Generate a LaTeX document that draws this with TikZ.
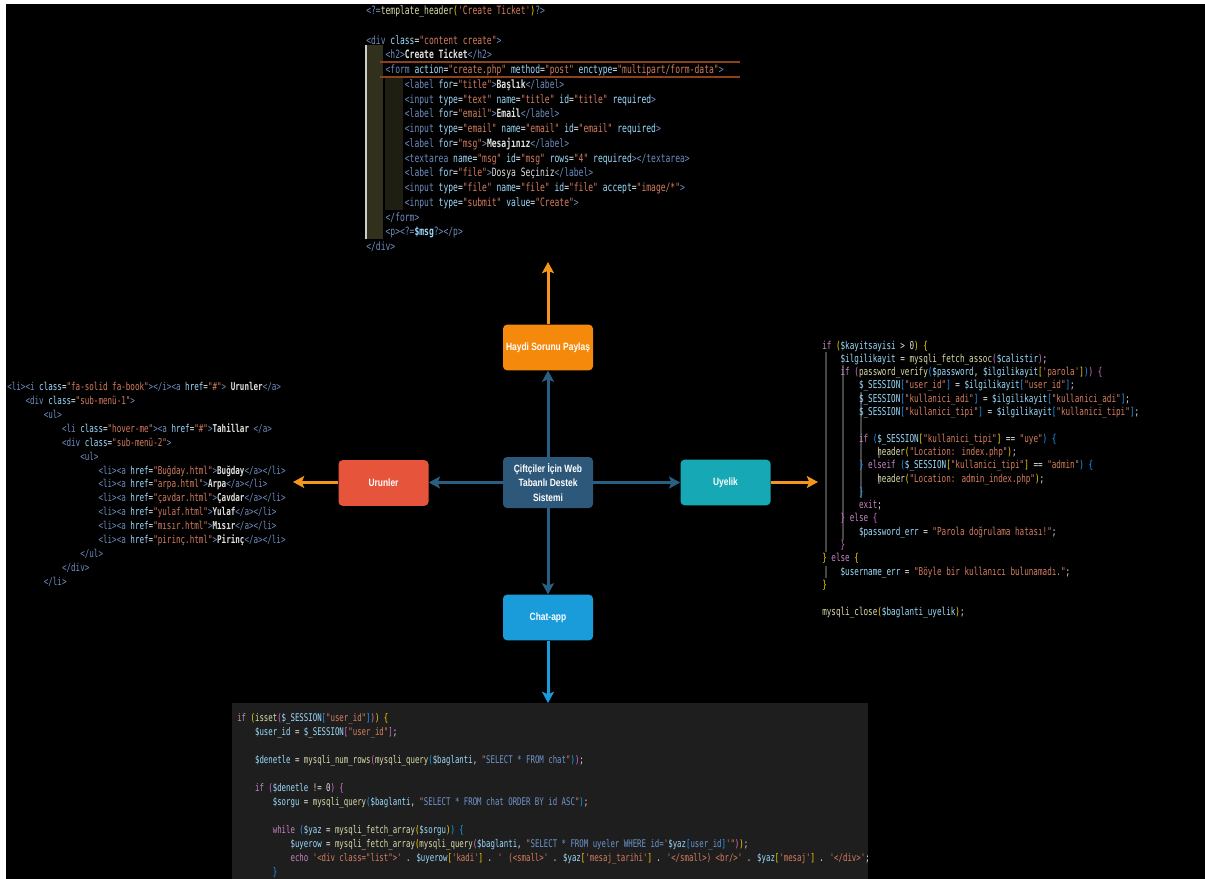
\documentclass[tikz,border=0pt]{standalone}
\usepackage{fontspec}
\setmainfont{Liberation Sans}
\newfontfamily\boxfont[FakeStretch=0.8]{Liberation Sans}
\newfontfamily\codefont[FakeStretch=0.7]{DejaVu Sans Mono}
\usetikzlibrary{arrows.meta}
\definecolor{corebox}{RGB}{45,88,122}
\definecolor{linkblue}{RGB}{40,95,130}
\definecolor{shareorange}{RGB}{245,137,12}
\definecolor{feedorange}{RGB}{243,150,30}
\definecolor{productred}{RGB}{231,84,60}
\definecolor{memberteal}{RGB}{22,168,180}
\definecolor{chatblue}{RGB}{26,155,218}
\definecolor{panelgray}{RGB}{30,30,30}
\definecolor{codetag}{RGB}{110,140,190}
\definecolor{codeatt}{RGB}{156,220,254}
\definecolor{codestr}{RGB}{214,125,95}
\definecolor{codekw}{RGB}{197,134,192}
\definecolor{codevar}{RGB}{156,220,254}
\definecolor{codefn}{RGB}{220,220,170}
\definecolor{codesql}{RGB}{110,150,205}
\definecolor{codetext}{RGB}{225,225,225}
\definecolor{bragold}{RGB}{255,215,0}
\definecolor{brapink}{RGB}{218,112,214}
\definecolor{brablue}{RGB}{23,159,255}
\definecolor{guideolive}{RGB}{48,48,28}
\definecolor{guidedark}{RGB}{30,30,18}
\definecolor{guidegray}{RGB}{70,70,70}
\definecolor{rowline}{RGB}{140,65,30}
% code colouring
\newcommand\ctag[1]{\textcolor{codetag}{#1}}
\newcommand\catt[1]{\textcolor{codeatt}{#1}}
\newcommand\cstr[1]{\textcolor{codestr}{#1}}
\newcommand\ckw[1]{\textcolor{codekw}{#1}}
\newcommand\cvar[1]{\textcolor{codevar}{#1}}
\newcommand\cfn[1]{\textcolor{codefn}{#1}}
\newcommand\csql[1]{\textcolor{codesql}{#1}}
\newcommand\cbr[1]{\textcolor{bragold}{#1}}
\newcommand\cbp[1]{\textcolor{brapink}{#1}}
\newcommand\cbb[1]{\textcolor{brablue}{#1}}
\newcommand\tabi{\phantom{0000}}

\begin{document}
\begin{tikzpicture}[x=0.25mm, y=-0.25mm,
  block/.style={rounded corners=1mm, text=white, align=center, inner sep=0pt,
    minimum width=22.5mm, minimum height=11.4mm,
    font=\boxfont\bfseries\fontsize{7.5}{10}\selectfont},
  code/.style={text=codetext, align=left, inner sep=0pt, anchor=north west},
  link/.style={-{Stealth[length=2.8mm, width=3mm, inset=0.6mm]}, line width=0.75mm, linkblue},
  feed/.style={-{Stealth[length=2.8mm, width=3mm, inset=0.6mm]}, line width=0.75mm, feedorange}
]
  \useasboundingbox (0,0) rectangle (1205,879);
  \fill[white] (0,0) rectangle (1205,879);
  \fill[black] (6,4) rectangle (1205,879);

  % top code: ticket form
  \fill[guideolive] (367,45) rectangle (383,239);
  \fill[guidedark] (385,76) rectangle (403,210);
  \draw[white!80!black, line width=0.5mm] (366,45) -- (366,239);
  \draw[rowline, line width=0.3mm] (380,62) -- (740,62) (380,77) -- (740,77);
  \node[code, font=\codefont\fontsize{8.15}{10.49}\selectfont] (ticket) at (366,5.5) {%
\ctag{<?=}\cfn{template\_header}\cbr{(}\cstr{'Create Ticket'}\cbr{)}\ctag{?>}\\
~\\
\ctag{<div} \catt{class}=\cstr{"content create"}\ctag{>}\\
\tabi\ctag{<h2>}\textbf{Create Ticket}\ctag{</h2>}\\
\tabi\ctag{<form} \catt{action}=\cstr{"create.php"} \catt{method}=\cstr{"post"} \catt{enctype}=\cstr{"multipart/form-data"}\ctag{>}\\
\tabi\tabi\ctag{<label} \catt{for}=\cstr{"title"}\ctag{>}\textbf{Başlık}\ctag{</label>}\\
\tabi\tabi\ctag{<input} \catt{type}=\cstr{"text"} \catt{name}=\cstr{"title"} \catt{id}=\cstr{"title"} \catt{required}\ctag{>}\\
\tabi\tabi\ctag{<label} \catt{for}=\cstr{"email"}\ctag{>}\textbf{Email}\ctag{</label>}\\
\tabi\tabi\ctag{<input} \catt{type}=\cstr{"email"} \catt{name}=\cstr{"email"} \catt{id}=\cstr{"email"} \catt{required}\ctag{>}\\
\tabi\tabi\ctag{<label} \catt{for}=\cstr{"msg"}\ctag{>}\textbf{Mesajınız}\ctag{</label>}\\
\tabi\tabi\ctag{<textarea} \catt{name}=\cstr{"msg"} \catt{id}=\cstr{"msg"} \catt{rows}=\cstr{"4"} \catt{required}\ctag{></textarea>}\\
\tabi\tabi\ctag{<label} \catt{for}=\cstr{"file"}\ctag{>}Dosya Seçiniz\ctag{</label>}\\
\tabi\tabi\ctag{<input} \catt{type}=\cstr{"file"} \catt{name}=\cstr{"file"} \catt{id}=\cstr{"file"} \catt{accept}=\cstr{"image/*"}\ctag{>}\\
\tabi\tabi\ctag{<input} \catt{type}=\cstr{"submit"} \catt{value}=\cstr{"Create"}\ctag{>}\\
\tabi\ctag{</form>}\\
\tabi\ctag{<p><?=}\cvar{\textbf{\$msg}}\ctag{?></p>}\\
\ctag{</div>}};

  % left code: product menu
  \node[code, font=\codefont\fontsize{7.7}{9.9}\selectfont] (menu) at (7,382) {%
\ctag{<li><i} \catt{class}=\cstr{"fa-solid fa-book"}\ctag{></i><a} \catt{href}=\cstr{"\#"}\ctag{>} \textbf{Urunler}\ctag{</a>}\\
\tabi\ctag{<div} \catt{class}=\cstr{"sub-menü-1"}\ctag{>}\\
\tabi\tabi\ctag{<ul>}\\
\tabi\tabi\tabi\ctag{<li} \catt{class}=\cstr{"hover-me"}\ctag{><a} \catt{href}=\cstr{"\#"}\ctag{>}\textbf{Tahillar} \ctag{</a>}\\
\tabi\tabi\tabi\ctag{<div} \catt{class}=\cstr{"sub-menü-2"}\ctag{>}\\
\tabi\tabi\tabi\tabi\ctag{<ul>}\\
\tabi\tabi\tabi\tabi\tabi\ctag{<li><a} \catt{href}=\cstr{"Buğday.html"}\ctag{>}\textbf{Buğday}\ctag{</a></li>}\\
\tabi\tabi\tabi\tabi\tabi\ctag{<li><a} \catt{href}=\cstr{"arpa.html"}\ctag{>}\textbf{Arpa}\ctag{</a></li>}\\
\tabi\tabi\tabi\tabi\tabi\ctag{<li><a} \catt{href}=\cstr{"çavdar.html"}\ctag{>}\textbf{Çavdar}\ctag{</a></li>}\\
\tabi\tabi\tabi\tabi\tabi\ctag{<li><a} \catt{href}=\cstr{"yulaf.html"}\ctag{>}\textbf{Yulaf}\ctag{</a></li>}\\
\tabi\tabi\tabi\tabi\tabi\ctag{<li><a} \catt{href}=\cstr{"mısır.html"}\ctag{>}\textbf{Mısır}\ctag{</a></li>}\\
\tabi\tabi\tabi\tabi\tabi\ctag{<li><a} \catt{href}=\cstr{"pirinç.html"}\ctag{>}\textbf{Pirinç}\ctag{</a></li>}\\
\tabi\tabi\tabi\tabi\ctag{</ul>}\\
\tabi\tabi\tabi\ctag{</div>}\\
\tabi\tabi\ctag{</li>}};

  % right code: login
  \draw[guidegray, line width=0.4mm] (826,352) -- (826,552) (843,365) -- (843,540)
    (861,392) -- (861,498) (879,450) -- (879,458) (879,476) -- (879,484) (826,566) -- (826,578);
  \node[code, font=\codefont\fontsize{7.75}{9.46}\selectfont] (login) at (822,340.5) {%
\ckw{if} \cbr{(}\cvar{\$kayitsayisi} > 0\cbr{)} \cbr{\{}\\
\tabi\cvar{\$ilgilikayit} = \cfn{mysqli\_fetch\_assoc}\cbp{(}\cvar{\$calistir}\cbp{)};\\
\tabi\ckw{if} \cbp{(}\cfn{password\_verify}\cbb{(}\cvar{\$password}, \cvar{\$ilgilikayit}\cbr{[}\cstr{'parola'}\cbr{]}\cbb{)}\cbp{)} \cbp{\{}\\
\tabi\tabi\cvar{\$\_SESSION}\cbb{[}\cstr{"user\_id"}\cbb{]} = \cvar{\$ilgilikayit}\cbb{[}\cstr{"user\_id"}\cbb{]};\\
\tabi\tabi\cvar{\$\_SESSION}\cbb{[}\cstr{"kullanici\_adi"}\cbb{]} = \cvar{\$ilgilikayit}\cbb{[}\cstr{"kullanici\_adi"}\cbb{]};\\
\tabi\tabi\cvar{\$\_SESSION}\cbb{[}\cstr{"kullanici\_tipi"}\cbb{]} = \cvar{\$ilgilikayit}\cbb{[}\cstr{"kullanici\_tipi"}\cbb{]};\\
~\\
\tabi\tabi\ckw{if} \cbb{(}\cvar{\$\_SESSION}\cbr{[}\cstr{"kullanici\_tipi"}\cbr{]} == \cstr{"uye"}\cbb{)} \cbb{\{}\\
\tabi\tabi\tabi\cfn{header}\cbr{(}\cstr{"Location: index.php"}\cbr{)};\\
\tabi\tabi\cbb{\}} \ckw{elseif} \cbb{(}\cvar{\$\_SESSION}\cbr{[}\cstr{"kullanici\_tipi"}\cbr{]} == \cstr{"admin"}\cbb{)} \cbb{\{}\\
\tabi\tabi\tabi\cfn{header}\cbr{(}\cstr{"Location: admin\_index.php"}\cbr{)};\\
\tabi\tabi\cbb{\}}\\
\tabi\tabi\ckw{exit};\\
\tabi\cbp{\}} \ckw{else} \cbp{\{}\\
\tabi\tabi\cvar{\$password\_err} = \cstr{"Parola doğrulama hatası!"};\\
\tabi\cbp{\}}\\
\cbr{\}} \ckw{else} \cbr{\{}\\
\tabi\cvar{\$username\_err} = \cstr{"Böyle bir kullanıcı bulunamadı."};\\
\cbr{\}}\\
~\\
\cfn{mysqli\_close}\cbr{(}\cvar{\$baglanti\_uyelik}\cbr{)};};

  % bottom code: chat
  \node[fill=panelgray, inner sep=0pt, minimum width=159mm, minimum height=44mm,
    anchor=north west] (chatpanel) at (232,703) {};
  \begin{scope}
    \clip (chatpanel.south west) rectangle (chatpanel.north east);
    \node[code, font=\codefont\fontsize{7.5}{9.96}\selectfont] (chatcode) at (237,713.5) {%
\ckw{if} \cbr{(}\cfn{isset}\cbp{(}\cvar{\$\_SESSION}\cbb{[}\cstr{"user\_id"}\cbb{]}\cbp{)}\cbr{)} \cbr{\{}\\
\tabi\cvar{\$user\_id} = \cvar{\$\_SESSION}\cbp{[}\cstr{"user\_id"}\cbp{]};\\
~\\
\tabi\cvar{\$denetle} = \cfn{mysqli\_num\_rows}\cbp{(}\cfn{mysqli\_query}\cbb{(}\cvar{\$baglanti}, \cstr{"}\csql{SELECT * FROM chat}\cstr{"}\cbb{)}\cbp{)};\\
~\\
\tabi\ckw{if} \cbp{(}\cvar{\$denetle} != 0\cbp{)} \cbp{\{}\\
\tabi\tabi\cvar{\$sorgu} = \cfn{mysqli\_query}\cbb{(}\cvar{\$baglanti}, \cstr{"}\csql{SELECT * FROM chat ORDER BY id ASC}\cstr{"}\cbb{)};\\
~\\
\tabi\tabi\ckw{while} \cbb{(}\cvar{\$yaz} = \cfn{mysqli\_fetch\_array}\cbr{(}\cvar{\$sorgu}\cbr{)}\cbb{)} \cbb{\{}\\
\tabi\tabi\tabi\cvar{\$uyerow} = \cfn{mysqli\_fetch\_array}\cbr{(}\cfn{mysqli\_query}\cbp{(}\cvar{\$baglanti}, \cstr{"}\csql{SELECT * FROM uyeler WHERE id=}\cstr{'}\cvar{\$yaz}\cbb{[}\csql{user\_id}\cbb{]}\cstr{'"}\cbp{)}\cbr{)};\\
\tabi\tabi\tabi\ckw{echo} \cstr{'<div class="list">'} . \cvar{\$uyerow}\cbr{[}\cstr{'kadi'}\cbr{]} . \cstr{' (<small>'} . \cvar{\$yaz}\cbr{[}\cstr{'mesaj\_tarihi'}\cbr{]} . \cstr{'</small>) <br/>'} . \cvar{\$yaz}\cbr{[}\cstr{'mesaj'}\cbr{]} . \cstr{'</div>'};\\
\tabi\tabi\cbb{\}}};
  \end{scope}

  % diagram
  \node[block, fill=corebox, minimum height=12.75mm] (core) at (548,482.5)
    {Çiftçiler İçin Web\\Tabanlı Destek\\Sistemi};
  \node[block, fill=shareorange] (share) at (548,347.5) {Haydi Sorunu Paylaş};
  \node[block, fill=productred] (products) at (383.5,483) {Urunler};
  \node[block, fill=memberteal] (member) at (725.5,482.5) {Uyelik};
  \node[block, fill=chatblue] (chat) at (548,617.5) {Chat-app};

  \coordinate (shareTip) at (548,262);
  \coordinate (productsTip) at (293,482);
  \coordinate (memberTip) at (818,482);

  \draw[link] (core) -- (share);
  \draw[link] (core.west) -- (products.east |- core.west);
  \draw[link] (core.east) -- (member.west |- core.east);
  \draw[link] (core) -- (chat);

  \draw[feed] (share) -- (shareTip);
  \draw[feed] (products.west |- productsTip) -- (productsTip);
  \draw[feed] (member.east |- memberTip) -- (memberTip);
  \draw[link, chatblue] (chat.south) -- (chat.south |- chatpanel.north);
\end{tikzpicture}
\end{document}
